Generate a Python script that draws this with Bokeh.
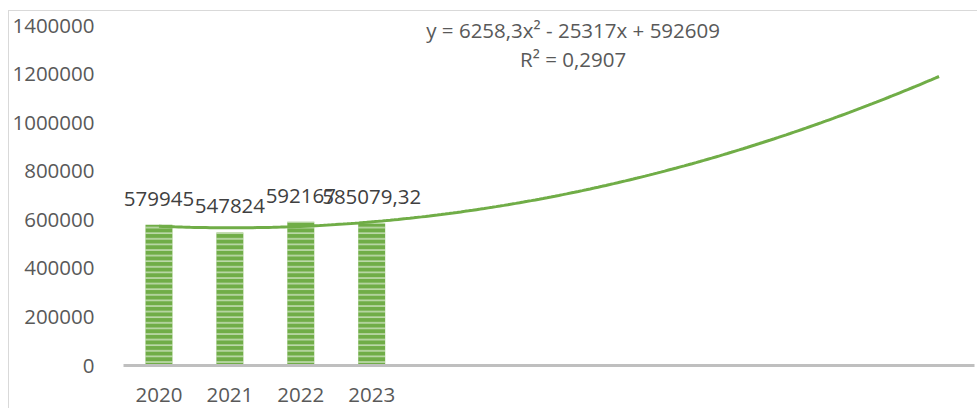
import numpy as np
from bokeh.plotting import figure
from bokeh.models import ColumnDataSource, FixedTicker, BasicTickFormatter, Label, Range1d
from bokeh.core.properties import value
from bokeh.embed import file_html
from bokeh.resources import INLINE

# ---- data ----
years = ["2020", "2021", "2022", "2023"]
positions = [1, 2, 3, 4]
values = [579945, 547824, 592167, 585079.32]
value_labels = ["579945", "547824", "592167", "585079,32"]
forecast_end = 12
y_ticks = [0, 200000, 400000, 600000, 800000, 1000000, 1200000, 1400000]
equation_text = "y = 6258,3x² - 25317x + 592609"
r2_text = "R² = 0,2907"

FONT = "Open Sans"
GREEN = "#70AD47"

p = figure(width=969, height=398, output_backend="svg", toolbar_location=None,
           x_range=Range1d(0.5, forecast_end + 0.5), y_range=Range1d(0, 1457650),
           min_border_left=111, min_border_right=4, min_border_top=0, min_border_bottom=44)
p.styles = {"margin-left": "8px", "margin-top": "10px",
            "border-left": "1px solid #D9D9D9", "border-top": "1px solid #D9D9D9"}
p.outline_line_color = None
p.xgrid.grid_line_color = None
p.ygrid.grid_line_color = None
p.background_fill_color = "white"
p.border_fill_color = "white"

src = ColumnDataSource(dict(x=positions, top=values, lab=value_labels))
p.vbar(x="x", top="top", width=0.38, source=src, fill_color=GREEN, line_color=None,
       hatch_pattern="horizontal_line", hatch_color="white", hatch_scale=5.6,
       hatch_weight=1.2, hatch_alpha=0.75)

# polynomial (2nd order) trendline fitted to the data, extended forward
coef = np.polyfit(positions, values, 2)
tx = np.linspace(1, forecast_end, 200)
ty = np.polyval(coef, tx)
p.line(tx, ty, line_color=GREEN, line_width=3)

p.text(x="x", y="top", text="lab", source=src, text_align="center", text_baseline="middle",
       y_offset=-26, text_font=value(FONT), text_font_size="20.5px", text_color="#404040")

p.add_layout(Label(x=6.84, y=1379500, text=equation_text, text_align="center",
                   text_baseline="middle", text_font=FONT, text_font_size="20.5px",
                   text_color="#595959"))
p.add_layout(Label(x=6.84, y=1264000, text=r2_text, text_align="center",
                   text_baseline="middle", text_font=FONT, text_font_size="20.5px",
                   text_color="#595959"))

ya = p.yaxis[0]
ya.ticker = FixedTicker(ticks=y_ticks)
ya.formatter = BasicTickFormatter(use_scientific=False)
ya.axis_line_color = None
ya.major_tick_line_color = None
ya.minor_tick_line_color = None
ya.major_label_standoff = 23
ya.major_label_text_font = FONT
ya.major_label_text_font_size = "20.5px"
ya.major_label_text_color = "#595959"

xa = p.xaxis[0]
xa.ticker = FixedTicker(ticks=positions)
xa.major_label_overrides = {pos: yr for pos, yr in zip(positions, years)}
xa.axis_line_color = "#BFBFBF"
xa.axis_line_width = 3
xa.major_tick_line_color = None
xa.minor_tick_line_color = None
xa.major_label_standoff = 16
xa.major_label_text_font = FONT
xa.major_label_text_font_size = "20.5px"
xa.major_label_text_color = "#595959"

open("out.html", "w").write(file_html(p, INLINE))
